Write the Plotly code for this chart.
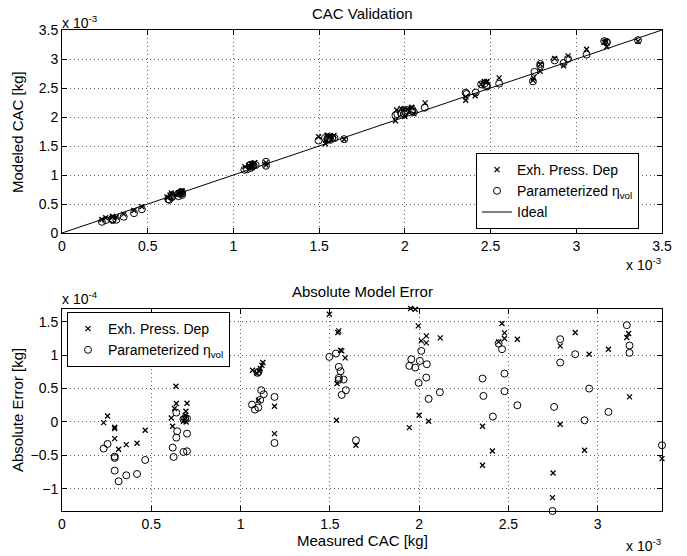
import plotly.graph_objects as go

# ---- data (measured CAC in 1e-3 kg, absolute error in 1e-4 kg) ----
exh_meas = [0.233, 0.255, 0.295, 0.295, 0.295, 0.317, 0.36, 0.42, 0.466,
            0.638, 0.64, 0.63, 0.612, 0.619, 0.70, 0.694, 0.69, 0.688, 0.68, 0.695,
            1.067, 1.09, 1.105, 1.11, 1.125, 1.12, 1.10, 1.19, 1.19,
            1.497, 1.55, 1.545, 1.567, 1.56, 1.586, 1.54, 1.537, 1.646,
            1.952, 1.978, 1.995, 2.04, 2.012, 2.04, 2.118, 2.0, 2.053, 1.945,
            2.464, 2.478, 2.478, 2.55, 2.445, 2.355, 2.41, 2.355,
            2.79, 2.79, 2.75, 2.747, 2.874, 2.952, 2.926,
            3.06, 3.173, 3.163, 3.178, 3.36]
exh_err = [-0.01, 0.09, -0.08, -0.10, -0.25, -0.41, -0.34, -0.32, -0.125,
           0.535, 0.275, 0.20, 0.06, -0.065, 0.28, 0.16, 0.10, 0.05, 0.01, 0.0,
           0.775, 0.735, 0.76, 0.80, 0.89, 0.85, 0.325, 0.235, -0.175,
           1.615, 1.365, 1.34, 1.065, 1.075, 0.96, 0.575, 0.025, -0.35,
           1.70, 1.69, 1.44, 1.29, 1.215, 1.185, 1.26, 0.10, 0.01, -0.085,
           1.475, 1.335, 1.25, 1.24, 1.20, -0.065, -0.435, -0.65,
           1.14, -0.035, -0.765, -1.135, 1.34, 1.015, -0.425,
           1.09, 1.325, 1.265, 0.375, -0.55]

par_meas = [0.233, 0.255, 0.295, 0.295, 0.295, 0.317, 0.36, 0.42, 0.466,
            0.64, 0.62, 0.625, 0.645, 0.64, 0.68, 0.69, 0.70, 0.70, 0.68, 0.70,
            1.095, 1.10, 1.064, 1.08, 1.10, 1.11, 1.116, 1.13, 1.19, 1.19,
            1.497, 1.534, 1.55, 1.56, 1.55, 1.55, 1.577, 1.59, 1.566, 1.646,
            2.012, 1.956, 1.945, 1.978, 2.004, 2.043, 2.04, 1.997, 2.053, 2.116,
            2.445, 2.464, 2.355, 2.478, 2.36, 2.478, 2.55, 2.413,
            2.79, 2.79, 2.756, 2.747, 2.874, 2.952, 2.926,
            3.06, 3.163, 3.178, 3.178, 3.36]
par_err = [-0.40, -0.33, -0.52, -0.54, -0.73, -0.89, -0.80, -0.78, -0.57,
           0.14, -0.385, -0.525, -0.14, -0.235, 0.04, 0.06, 0.05, -0.175, -0.45, -0.44,
           0.735, 0.75, 0.26, 0.185, 0.215, 0.33, 0.475, 0.415, 0.375, -0.315,
           0.975, 1.025, 0.825, 0.76, 0.66, 0.63, 0.635, 0.475, 0.405, -0.275,
           1.065, 0.94, 0.84, 0.815, 0.915, 0.865, 0.665, 0.585, 0.345, 0.445,
           1.175, 1.09, 0.65, 0.725, 0.39, 0.46, 0.25, 0.08,
           1.24, 0.89, 0.225, -1.335, 1.015, 0.50, 0.025,
           0.15, 1.45, 1.145, 1.035, -0.35]

ideal_x = [0.0, 3.5]
top_ticks = [0, 0.5, 1, 1.5, 2, 2.5, 3, 3.5]
top_ticktext = ["0", "0.5", "1", "1.5", "2", "2.5", "3", "3.5"]
bot_xticks = [0, 0.5, 1, 1.5, 2, 2.5, 3]
bot_xticktext = ["0", "0.5", "1", "1.5", "2", "2.5", "3"]
bot_yticks = [-1, -0.5, 0, 0.5, 1, 1.5]
bot_yticktext = ["\u22121", "\u22120.5", "0", "0.5", "1", "1.5"]

# modeled CAC (1e-3 kg) = measured + error
exh_model = [m + e / 10.0 for m, e in zip(exh_meas, exh_err)]
par_model = [m + e / 10.0 for m, e in zip(par_meas, par_err)]

FONT = "Liberation Sans"
W, H = 687, 556
L, R, T, B = 62, 25, 30, 45
PH = H - T - B  # 481


def py(p):
    return (H - B - p) / PH


def px(p):
    return (p - L) / (W - L - R)


fig = go.Figure()

cross = dict(symbol="x-thin-open", size=5, color="black", line=dict(color="black", width=1.3))
circ = dict(symbol="circle-open", size=7, color="black", line=dict(color="black", width=1))

fig.add_trace(go.Scatter(x=exh_meas, y=exh_model, mode="markers", marker=cross,
                         name="Exh. Press. Dep", xaxis="x", yaxis="y",
                         legend="legend", cliponaxis=False))
fig.add_trace(go.Scatter(x=par_meas, y=par_model, mode="markers", marker=circ,
                         name="Parameterized \u03b7<sub>vol</sub>", xaxis="x", yaxis="y",
                         legend="legend", cliponaxis=False))
fig.add_trace(go.Scatter(x=ideal_x, y=ideal_x, mode="lines", line=dict(color="black", width=1),
                         name="Ideal", xaxis="x", yaxis="y", legend="legend"))

fig.add_trace(go.Scatter(x=exh_meas, y=exh_err, mode="markers", marker=cross,
                         name="Exh. Press. Dep", xaxis="x2", yaxis="y2",
                         legend="legend2", cliponaxis=False))
fig.add_trace(go.Scatter(x=par_meas, y=par_err, mode="markers", marker=circ,
                         name="Parameterized \u03b7<sub>vol</sub>", xaxis="x2", yaxis="y2",
                         legend="legend2", cliponaxis=False))

axis_common = dict(showline=True, linecolor="black", linewidth=1, mirror="ticks",
                   ticks="inside", ticklen=5, tickcolor="black", tickwidth=1,
                   showgrid=True, gridcolor="#606060", griddash="1px,3px", gridwidth=1,
                   zeroline=False, tickfont=dict(family=FONT, size=14, color="black"))

fig.update_layout(
    width=W, height=H,
    margin=dict(l=L, r=R, t=T, b=B),
    paper_bgcolor="white", plot_bgcolor="white",
    font=dict(family=FONT, size=15, color="black"),
    xaxis=dict(domain=[0, 1], range=[0, 3.5], tickvals=top_ticks, ticktext=top_ticktext,
               anchor="y", **axis_common),
    yaxis=dict(domain=[py(233), 1], range=[0, 3.5], tickvals=top_ticks, ticktext=top_ticktext,
               anchor="x", **axis_common),
    xaxis2=dict(domain=[0, 1], range=[0, 3.36], tickvals=bot_xticks, ticktext=bot_xticktext,
                anchor="y2", **axis_common),
    yaxis2=dict(domain=[0, py(308.5)], range=[-1.335, 1.70], tickvals=bot_yticks,
                ticktext=bot_yticktext, anchor="x2", **axis_common),
    showlegend=True,
    legend=dict(x=px(476), y=py(229), xanchor="left", yanchor="bottom",
                bgcolor="white", bordercolor="black", borderwidth=1,
                tracegroupgap=0, itemwidth=30,
                font=dict(family=FONT, size=14, color="black")),
    legend2=dict(x=px(67), y=py(312), xanchor="left", yanchor="top",
                 bgcolor="white", bordercolor="black", borderwidth=1,
                 tracegroupgap=0, itemwidth=30,
                 font=dict(family=FONT, size=14, color="black")),
)

ann = []
ann.append(dict(text="CAC Validation", x=0.5, y=py(13), xref="paper", yref="paper",
                showarrow=False, xanchor="center", yanchor="middle", font=dict(size=15)))
ann.append(dict(text="Absolute Model Error", x=0.5, y=py(291), xref="paper", yref="paper",
                showarrow=False, xanchor="center", yanchor="middle", font=dict(size=15)))
ann.append(dict(text="Measured CAC [kg]", x=0.5, y=py(540), xref="paper", yref="paper",
                showarrow=False, xanchor="center", yanchor="middle", font=dict(size=15)))
ann.append(dict(text="Modeled CAC [kg]", x=px(17), y=py(132), xref="paper", yref="paper",
                showarrow=False, xanchor="center", yanchor="middle", textangle=-90,
                font=dict(size=15)))
ann.append(dict(text="Absolute Error [kg]", x=px(17), y=py(410), xref="paper", yref="paper",
                showarrow=False, xanchor="center", yanchor="middle", textangle=-90,
                font=dict(size=15)))
ann.append(dict(text="x 10<sup>-3</sup>", x=px(60), y=py(33), xref="paper", yref="paper",
                showarrow=False, xanchor="left", yanchor="bottom", font=dict(size=14)))
ann.append(dict(text="x 10<sup>-3</sup>", x=px(664), y=py(275), xref="paper", yref="paper",
                showarrow=False, xanchor="right", yanchor="bottom", font=dict(size=14)))
ann.append(dict(text="x 10<sup>-4</sup>", x=px(60), y=py(309), xref="paper", yref="paper",
                showarrow=False, xanchor="left", yanchor="bottom", font=dict(size=14)))
ann.append(dict(text="x 10<sup>-3</sup>", x=px(664), y=py(556), xref="paper", yref="paper",
                showarrow=False, xanchor="right", yanchor="bottom", font=dict(size=14)))
fig.update_layout(annotations=ann)

fig.write_html("out.html")
